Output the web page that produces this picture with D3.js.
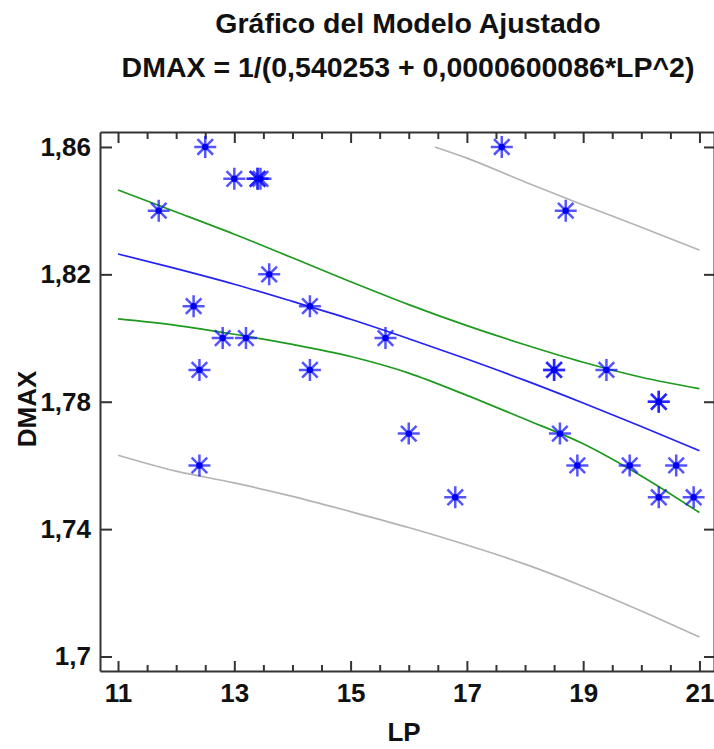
<!DOCTYPE html>
<html>
<head>
<meta charset="utf-8">
<script src="https://cdn.jsdelivr.net/npm/d3@7"></script>
<style>
  html, body { margin: 0; padding: 0; background: #fff; }
  svg { display: block; }
  text { font-family: "Liberation Sans", Arial, sans-serif; font-weight: bold; fill: #111; }
</style>
</head>
<body>
<svg id="chart" width="714" height="749"></svg>
<script>
// Observations: LP (x) and DMAX (y)
const obsLP   = [12.5, 13.0, 13.4, 13.4, 13.45, 11.7, 13.6, 12.3, 14.3, 12.8, 13.2, 15.6, 12.4, 14.3, 12.4,
                 16.0, 16.8, 17.6, 18.7, 18.5, 18.5, 19.4, 20.3, 20.3, 18.6, 18.9, 19.8, 20.6, 20.3, 20.9];
const obsDMAX = [1.86, 1.85, 1.85, 1.85, 1.85, 1.84, 1.82, 1.81, 1.81, 1.80, 1.80, 1.80, 1.79, 1.79, 1.76,
                 1.77, 1.75, 1.86, 1.84, 1.79, 1.79, 1.79, 1.78, 1.78, 1.77, 1.76, 1.76, 1.76, 1.75, 1.75];

// Fitted model DMAX = 1/(0,540253 + 0,0000600086*LP^2) evaluated on the LP grid
const gridLP      = [11, 12, 13, 14, 15, 16, 17, 18, 19, 20, 21];
const fitDMAX     = [1.8264, 1.8218, 1.8169, 1.8115, 1.8059, 1.7998, 1.7934, 1.7867, 1.7796, 1.7722, 1.7646];
// Confidence limits for the mean
const confUpper   = [1.8465, 1.8396, 1.8326, 1.8252, 1.8177, 1.8105, 1.8039, 1.7979, 1.7924, 1.7877, 1.7841];
const confLower   = [1.8060, 1.8040, 1.8012, 1.7980, 1.7942, 1.7890, 1.7820, 1.7745, 1.7668, 1.7567, 1.7452];
// Prediction limits
const predLower   = [1.7632, 1.7582, 1.7545, 1.7503, 1.7455, 1.7405, 1.7350, 1.7290, 1.7220, 1.7143, 1.7061];
const predUpperLP = [16.45, 17, 18, 19, 20, 21];
const predUpper   = [1.8600, 1.8565, 1.8490, 1.8418, 1.8348, 1.8276];

// Axis ticks
const xTicks      = [11, 13, 15, 17, 19, 21];
const xMinorTicks = [11.5, 12, 12.5, 13.5, 14, 14.5, 15.5, 16, 16.5, 17.5, 18, 18.5, 19.5, 20, 20.5];
const yTicks      = [1.70, 1.74, 1.78, 1.82, 1.86];

const titleLines = ["Gráfico del Modelo Ajustado", "DMAX = 1/(0,540253 + 0,0000600086*LP^2)"];
const xTitle = "LP";
const yTitle = "DMAX";

const svg = d3.select("#chart");
const plot = { left: 100, right: 714, top: 132, bottom: 671 };

const x = d3.scaleLinear().domain([10.69, 21.25]).range([plot.left, plot.right]);
const y = d3.scaleLinear().domain([1.69545, 1.8647]).range([plot.bottom, plot.top]);

const fmt = d => String(+d.toFixed(2)).replace(".", ",");
const axisColor = "#333";

function styleAxis(g, labelled) {
  g.selectAll("path.domain").attr("stroke", axisColor).attr("stroke-width", 2);
  g.selectAll(".tick line").attr("stroke", axisColor).attr("stroke-width", 2);
  if (labelled) {
    g.selectAll(".tick text")
      .attr("font-size", 26)
      .attr("font-family", "Liberation Sans, Arial, sans-serif")
      .attr("font-weight", "bold")
      .attr("fill", "#111");
  } else {
    g.selectAll(".tick text").remove();
  }
}

// Bottom axis: major + minor ticks pointing inward
svg.append("g").attr("transform", `translate(0,${plot.bottom})`)
  .call(d3.axisBottom(x).tickValues(xMinorTicks).tickSize(-6).tickSizeOuter(0).tickFormat(""))
  .call(g => { g.select("path.domain").remove(); styleAxis(g, false); });
svg.append("g").attr("transform", `translate(0,${plot.bottom})`)
  .call(d3.axisBottom(x).tickValues(xTicks).tickSize(-10).tickSizeOuter(0).tickPadding(13).tickFormat(d3.format("d")))
  .call(g => styleAxis(g, true));

// Top axis: ticks only
svg.append("g").attr("transform", `translate(0,${plot.top})`)
  .call(d3.axisTop(x).tickValues(xMinorTicks).tickSize(-7).tickSizeOuter(0).tickFormat(""))
  .call(g => { g.select("path.domain").remove(); styleAxis(g, false); });
svg.append("g").attr("transform", `translate(0,${plot.top})`)
  .call(d3.axisTop(x).tickValues(xTicks).tickSize(-11).tickSizeOuter(0).tickFormat(""))
  .call(g => styleAxis(g, false));

// Left axis
svg.append("g").attr("transform", `translate(${plot.left},0)`)
  .call(d3.axisLeft(y).tickValues(yTicks).tickSize(-12).tickSizeOuter(0).tickPadding(9).tickFormat(fmt))
  .call(g => styleAxis(g, true));

// Right axis: ticks only
svg.append("g").attr("transform", `translate(${plot.right},0)`)
  .call(d3.axisRight(y).tickValues(yTicks).tickSize(-10).tickSizeOuter(0).tickFormat(""))
  .call(g => styleAxis(g, false));

// Curves
const line = d3.line().x(d => x(d[0])).y(d => y(d[1])).curve(d3.curveMonotoneX);
const zip = (xs, ys) => xs.map((v, i) => [v, ys[i]]);
const curves = [
  { pts: zip(gridLP, predLower),        color: "#b4b4b4", w: 1.7 },
  { pts: zip(predUpperLP, predUpper),   color: "#b4b4b4", w: 1.7 },
  { pts: zip(gridLP, confUpper),        color: "#1e9a1e", w: 1.7 },
  { pts: zip(gridLP, confLower),        color: "#1e9a1e", w: 1.7 },
  { pts: zip(gridLP, fitDMAX),          color: "#2323f5", w: 1.7 }
];
svg.append("g").selectAll("path").data(curves).join("path")
  .attr("d", c => line(c.pts))
  .attr("fill", "none")
  .attr("stroke", c => c.color)
  .attr("stroke-width", c => c.w);

// Observation markers: eight-armed asterisk with a solid centre
const r = 11;
const arms = [0, 45, 90, 135].map(a => {
  const t = a * Math.PI / 180;
  return `M${-r * Math.cos(t)},${-r * Math.sin(t)}L${r * Math.cos(t)},${r * Math.sin(t)}`;
}).join("");
const pts = svg.append("g").selectAll("g").data(zip(obsLP, obsDMAX)).join("g")
  .attr("transform", d => `translate(${x(d[0])},${y(d[1])})`);
pts.append("path").attr("d", arms)
  .attr("stroke", "#1414ff").attr("stroke-opacity", 0.72).attr("stroke-width", 2.5).attr("fill", "none");
pts.append("circle").attr("r", 3.2).attr("fill", "#0000f0");

// Titles
svg.append("g").selectAll("text").data(titleLines).join("text")
  .attr("x", 408).attr("y", (d, i) => 33 + i * 44)
  .attr("text-anchor", "middle").attr("font-size", 28.5)
  .text(d => d);

svg.append("text").attr("x", 404).attr("y", 741)
  .attr("text-anchor", "middle").attr("font-size", 26).text(xTitle);

svg.append("text").attr("transform", "translate(36,409) rotate(-90)")
  .attr("text-anchor", "middle").attr("font-size", 26).text(yTitle);
</script>
</body>
</html>
